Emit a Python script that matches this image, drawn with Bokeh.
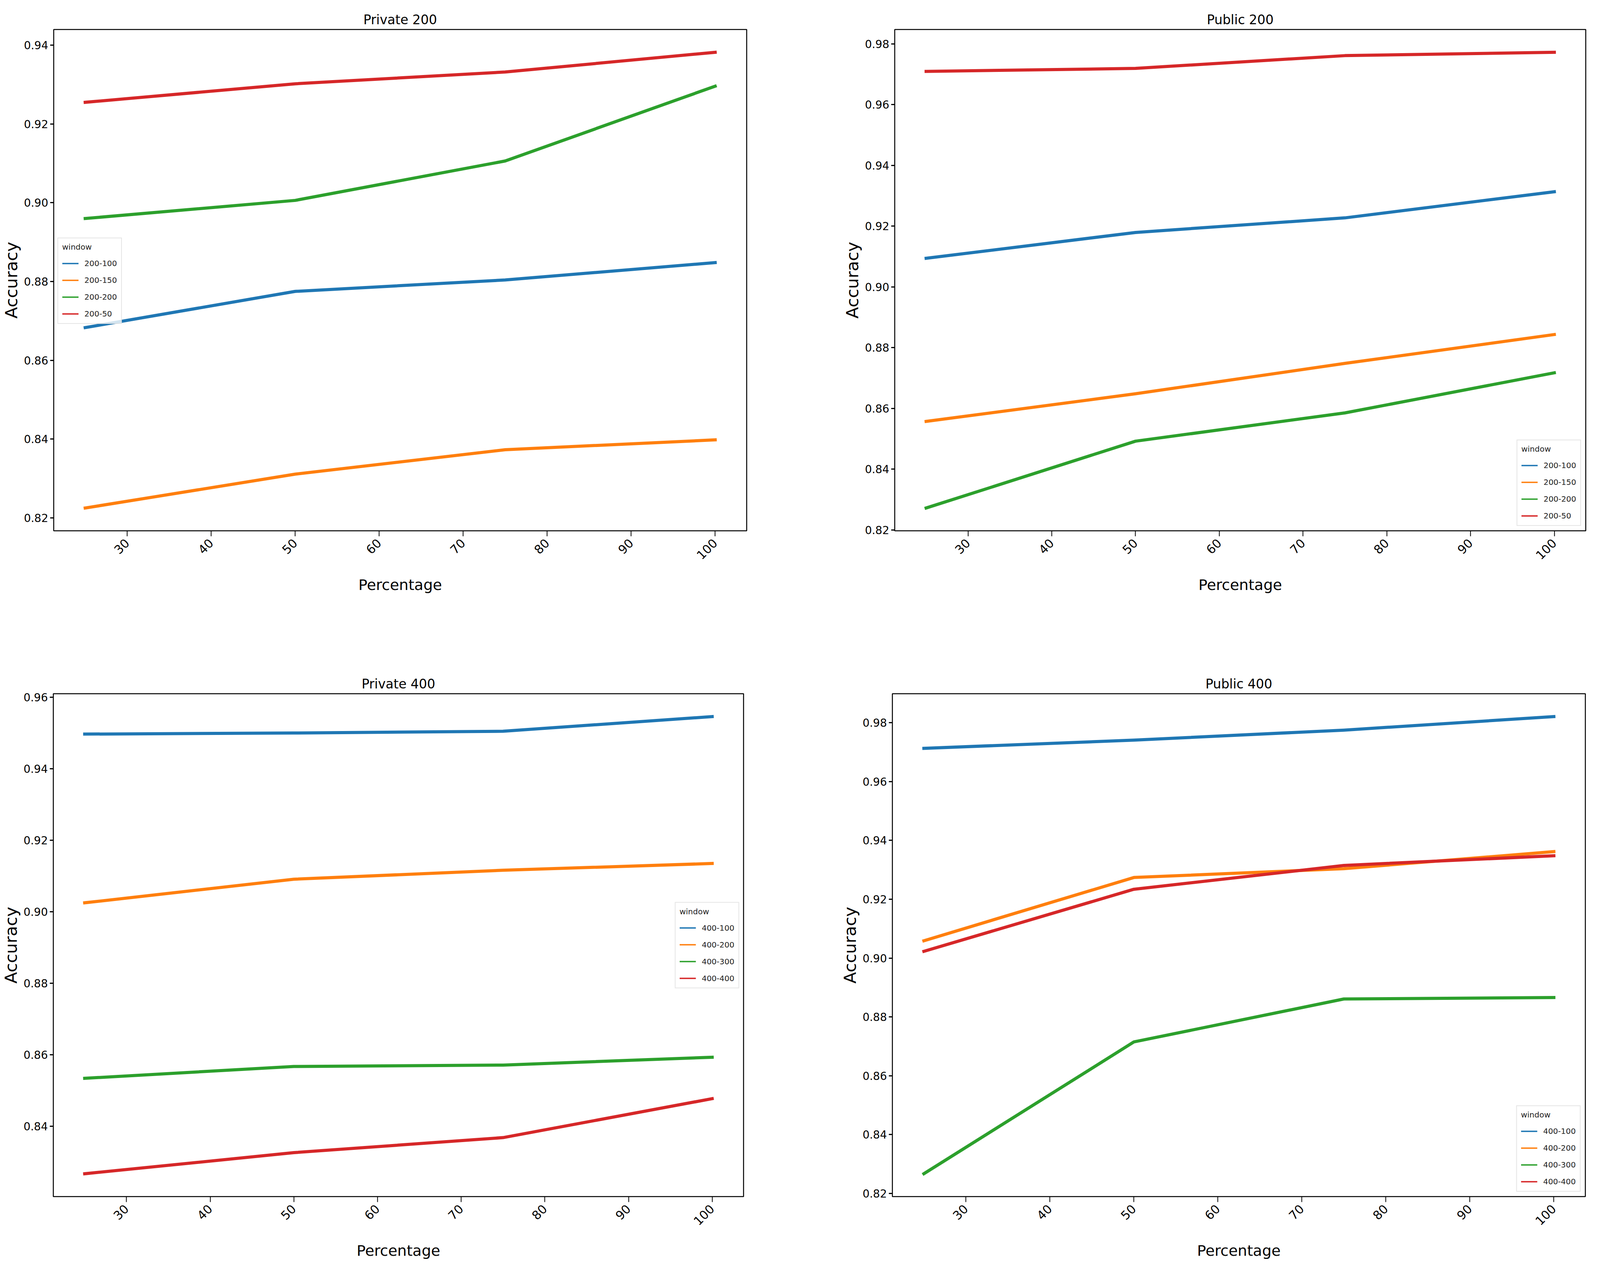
import math
from bokeh.plotting import figure
from bokeh.layouts import column, row
from bokeh.models import Range1d, FixedTicker, PrintfTickFormatter, Legend, LegendItem
from bokeh.embed import file_html
from bokeh.resources import INLINE

# ---------------- data ----------------
percentage = [25, 50, 75, 100]
x_ticks = [30, 40, 50, 60, 70, 80, 90, 100]
y_ticks = [0.82, 0.84, 0.86, 0.88, 0.90, 0.92, 0.94, 0.96, 0.98]

labels_200 = ["200-100", "200-150", "200-200", "200-50"]
labels_400 = ["400-100", "400-200", "400-300", "400-400"]

private200_100 = [0.8683, 0.8775, 0.8804, 0.8848]
private200_150 = [0.8225, 0.8311, 0.8373, 0.8398]
private200_200 = [0.8960, 0.9006, 0.9106, 0.9296]
private200_50 = [0.9255, 0.9302, 0.9332, 0.9382]

public200_100 = [0.9094, 0.9179, 0.9227, 0.9313]
public200_150 = [0.8557, 0.8648, 0.8748, 0.8843]
public200_200 = [0.8272, 0.8492, 0.8585, 0.8717]
public200_50 = [0.9709, 0.9719, 0.9761, 0.9772]

private400_100 = [0.9497, 0.9500, 0.9505, 0.9546]
private400_200 = [0.9025, 0.9091, 0.9116, 0.9135]
private400_300 = [0.8534, 0.8567, 0.8571, 0.8593]
private400_400 = [0.8267, 0.8326, 0.8368, 0.8477]

public400_100 = [0.9713, 0.9741, 0.9775, 0.9821]
public400_200 = [0.9059, 0.9274, 0.9304, 0.9362]
public400_300 = [0.8267, 0.8715, 0.8861, 0.8866]
public400_400 = [0.9023, 0.9234, 0.9315, 0.9348]

colors = ["#1f77b4", "#ff7f0e", "#2ca02c", "#d62728"]

FONT = "DejaVu Sans"


def padded(vals, frac=0.05):
    lo, hi = min(vals), max(vals)
    pad = (hi - lo) * frac
    return lo - pad, hi + pad


def panel(title, labels, series, width, height, bl, br, bt, bb, legend_loc, legend_margin=12):
    allv = [v for s in series for v in s]
    x0, x1 = padded(percentage)
    y0, y1 = padded(allv)
    p = figure(width=width, height=height, title=title,
               x_range=Range1d(x0, x1), y_range=Range1d(y0, y1),
               output_backend="svg", toolbar_location=None,
               min_border_left=bl, min_border_right=br,
               min_border_top=bt, min_border_bottom=bb)
    p.background_fill_color = "white"
    p.border_fill_color = "white"
    p.outline_line_color = "black"
    p.outline_line_width = 2.5
    p.outline_line_alpha = 1.0
    p.grid.grid_line_color = None

    p.title.text_font = FONT
    p.title.text_font_size = "33px"
    p.title.text_font_style = "normal"
    p.title.text_color = "black"
    p.title.align = "center"
    p.title.standoff = 12

    for ax in (p.xaxis[0], p.yaxis[0]):
        ax.axis_line_color = None
        ax.major_tick_line_color = "black"
        ax.major_tick_in = 0
        ax.minor_tick_line_color = None
        ax.major_label_text_font = FONT
        ax.major_label_text_color = "black"
        ax.axis_label_text_font = FONT
        ax.axis_label_text_font_style = "normal"
        ax.axis_label_text_color = "black"

    p.xaxis.major_tick_out = 14
    p.xaxis.major_tick_line_width = 2
    p.xaxis.major_label_standoff = 12
    p.xaxis.major_label_text_font_size = "31px"
    p.xaxis.axis_label_text_font_size = "38px"
    p.xaxis.axis_label_standoff = 30
    p.yaxis.major_tick_out = 9
    p.yaxis.major_tick_line_width = 3
    p.yaxis.major_label_standoff = 5
    p.yaxis.major_label_text_font_size = "28px"
    p.yaxis.axis_label_text_font_size = "43px"
    p.yaxis.axis_label_standoff = 4

    p.xaxis.axis_label = "Percentage"
    p.yaxis.axis_label = "Accuracy"
    p.xaxis.ticker = FixedTicker(ticks=x_ticks)
    p.yaxis.ticker = FixedTicker(ticks=y_ticks)
    p.yaxis.formatter = PrintfTickFormatter(format="%.2f")
    p.xaxis.major_label_orientation = math.pi / 4

    for s, c in zip(series, colors):
        p.line(percentage, s, line_color=c, line_width=8,
               line_join="round", line_cap="square")

    items = []
    nan = float("nan")
    for lab, c in zip(labels, colors):
        proxy = p.line(x=[nan], y=[nan], line_color=c, line_width=3.5)
        items.append(LegendItem(label=lab, renderers=[proxy]))

    leg = Legend(items=items, location=legend_loc, title="window")
    leg.margin = legend_margin
    leg.label_text_font = FONT
    leg.label_text_font_size = "20px"
    leg.label_text_color = "#222222"
    leg.title_text_font = FONT
    leg.title_text_font_size = "20px"
    leg.title_text_font_style = "normal"
    leg.title_text_color = "#222222"
    leg.title_standoff = 16
    leg.glyph_width = 42
    leg.glyph_height = 28
    leg.label_height = 28
    leg.label_standoff = 15
    leg.spacing = 15
    leg.padding = 10
    leg.border_line_color = "#cccccc"
    leg.border_line_width = 2
    leg.background_fill_color = "white"
    leg.background_fill_alpha = 0.8
    p.add_layout(leg)
    return p


p1 = panel("Private 200", labels_200,
           [private200_100, private200_150, private200_200, private200_50],
           2012, 1642, 137, 101, 75, 284, (10, 529))
p2 = panel("Public 200", labels_200,
           [public200_100, public200_150, public200_200, public200_50],
           2068, 1642, 278, 21, 75, 284, "bottom_right", 12)
p3 = panel("Private 400", labels_400,
           [private400_100, private400_200, private400_300, private400_400],
           2012, 1618, 131, 109, 133, 198, "right", 11)
p4 = panel("Public 400", labels_400,
           [public400_100, public400_200, public400_300, public400_400],
           2068, 1618, 272, 22, 133, 198, "bottom_right", 12)

layout = column(row(p1, p2), row(p3, p4))

open("out.html", "w").write(file_html(layout, INLINE))
